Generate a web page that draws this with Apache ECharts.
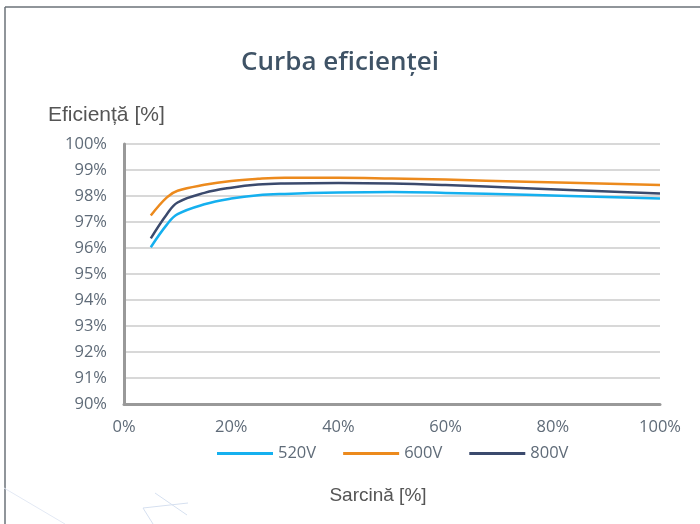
<!DOCTYPE html>
<html>
<head>
<meta charset="utf-8">
<script src="https://cdn.jsdelivr.net/npm/echarts@6/dist/echarts.min.js"></script>
<style>html,body{margin:0;padding:0;background:#fff}#c{width:700px;height:524px}</style>
</head>
<body>
<div id="c"></div>
<script>
var loadPct = [5, 8, 10, 15, 20, 25, 30, 40, 50, 60, 75, 100];
var eff520 = [96.03, 96.9, 97.3, 97.68, 97.9, 98.03, 98.08, 98.13, 98.15, 98.12, 98.05, 97.9];
var eff600 = [97.25, 97.95, 98.2, 98.43, 98.58, 98.66, 98.7, 98.7, 98.67, 98.63, 98.55, 98.42];
var eff800 = [96.37, 97.3, 97.75, 98.12, 98.32, 98.44, 98.48, 98.5, 98.48, 98.42, 98.3, 98.1];
var seriesNames = ['520V', '600V', '800V'];

function pairs(xs, ys) { return xs.map(function (x, i) { return [x, ys[i]]; }); }

var chart = echarts.init(document.getElementById('c'), null, { renderer: 'canvas' });
var labelColor = '#5f6b78';
var font = 'Open Sans';
function mk(name, data, color) {
  return {
    name: name, type: 'line', data: pairs(loadPct, data), smooth: 0.4,
    symbol: 'none', lineStyle: { color: color, width: 2.5 }, itemStyle: { color: color }
  };
}
chart.setOption({
  animation: false,
  title: {
    text: 'Curba eficienței', left: 236, top: 45,
    textStyle: { fontFamily: font, fontWeight: 600, fontSize: 26, color: '#3f5366' }
  },
  legend: {
    data: seriesNames, top: 440, left: 212,
    icon: 'rect', itemWidth: 56, itemHeight: 3, itemGap: 27,
    textStyle: { fontFamily: font, fontSize: 16.5, color: labelColor }
  },
  grid: { left: 124, right: 40, top: 144, bottom: 120 },
  xAxis: {
    type: 'value', min: 0, max: 100, interval: 20,
    name: 'Sarcină [%]', nameLocation: 'middle', nameGap: 82,
    nameTextStyle: { fontFamily: 'Liberation Sans', fontSize: 19, color: '#555', padding: [0, 28, 0, 0] },
    axisLine: { lineStyle: { color: '#999', width: 3 } },
    axisTick: { show: false },
    splitLine: { show: false },
    axisLabel: { formatter: '{value}%', margin: 15, fontFamily: font, fontSize: 16.5, color: labelColor }
  },
  yAxis: {
    type: 'value', min: 90, max: 100, interval: 1,
    name: 'Eficiență [%]', nameLocation: 'end', nameGap: 18,
    nameTextStyle: { fontFamily: 'Liberation Sans', fontSize: 21, color: '#555', align: 'left', padding: [0, 0, 0, -76] },
    axisLine: { show: true, lineStyle: { color: '#999', width: 3 } },
    axisTick: { show: false },
    splitLine: { lineStyle: { color: '#cbcbcb', width: 1.5 } },
    axisLabel: { formatter: '{value}%', margin: 17, fontFamily: font, fontSize: 16.5, color: labelColor }
  },
  series: [
    mk('520V', eff520, '#15b0ef'),
    mk('600V', eff600, '#ec8a1d'),
    mk('800V', eff800, '#3b4a6d')
  ],
  graphic: [
    { type: 'line', shape: { x1: 5, y1: 7, x2: 700, y2: 7 }, style: { stroke: '#6b7278', lineWidth: 1.5 } },
    { type: 'line', shape: { x1: 5, y1: 7, x2: 5, y2: 524 }, style: { stroke: '#6b7278', lineWidth: 1.5 } },
    { type: 'line', shape: { x1: 4, y1: 488, x2: 65, y2: 524 }, style: { stroke: '#e3e9f4', lineWidth: 1 } },
    { type: 'line', shape: { x1: 155, y1: 493, x2: 187, y2: 515 }, style: { stroke: '#d6e0f0', lineWidth: 1 } },
    { type: 'line', shape: { x1: 143, y1: 508, x2: 188, y2: 503 }, style: { stroke: '#d6e0f0', lineWidth: 1 } },
    { type: 'line', shape: { x1: 143, y1: 508, x2: 153, y2: 524 }, style: { stroke: '#d6e0f0', lineWidth: 1 } }
  ]
});
</script>
</body>
</html>
